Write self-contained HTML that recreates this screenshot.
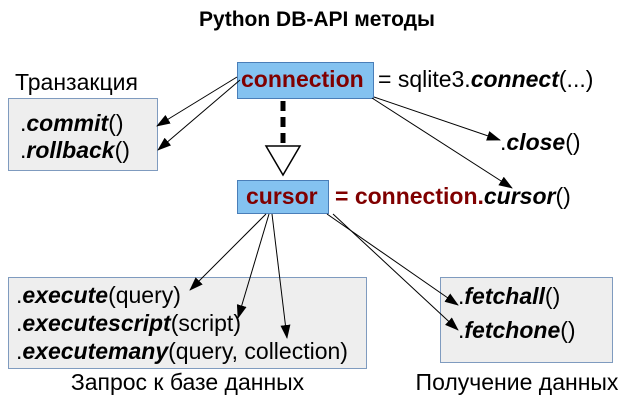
<!DOCTYPE html>
<html><head><meta charset="utf-8"><style>
body{margin:0;background:#fff;width:634px;height:402px;overflow:hidden;position:relative;font-family:"Liberation Sans",sans-serif;}
.t{position:absolute;white-space:nowrap;font-size:23px;color:#000;line-height:1;}
.box{position:absolute;background:#eeeeee;border:1.5px solid #7f9bbf;box-sizing:border-box;}
.blue{position:absolute;background:#84c2f0;border:1.5px solid #4a7eb8;box-sizing:border-box;}
.r{color:#800000;font-weight:bold;}
</style></head><body>
<div class="t" style="left:0;width:634px;text-align:center;top:9px;font-size:21px;font-weight:bold;">Python DB-API методы</div>
<div class="box" style="left:8px;top:98px;width:150px;height:73px"></div>
<div class="box" style="left:8px;top:277px;width:359px;height:92px"></div>
<div class="box" style="left:440px;top:277px;width:173px;height:86px"></div>
<div class="blue" style="left:237px;top:62px;width:137px;height:37px"></div>
<div class="blue" style="left:237px;top:180px;width:92px;height:34px"></div>
<svg width="634" height="402" style="position:absolute;left:0;top:0">
<defs><marker id="a" markerWidth="14" markerHeight="10" refX="13" refY="5" orient="auto" markerUnits="userSpaceOnUse"><path d="M0,0 L14,5 L0,10z" fill="#000"/></marker></defs>
<g stroke="#000" stroke-width="1" fill="none" marker-end="url(#a)">
<line x1="237" y1="77" x2="157" y2="126"/>
<line x1="240" y1="80" x2="158" y2="150"/>
<line x1="374" y1="97" x2="500" y2="140"/>
<line x1="372" y1="98" x2="512" y2="188"/>
<line x1="266" y1="214" x2="190" y2="290"/>
<line x1="269" y1="214" x2="238" y2="318"/>
<line x1="272" y1="214" x2="287" y2="338"/>
<line x1="327" y1="214" x2="458" y2="305"/>
<line x1="333" y1="214" x2="458" y2="330"/>
</g>
<line x1="283" y1="101" x2="283" y2="147" stroke="#000" stroke-width="5" stroke-dasharray="10,6"/>
<path d="M266,146 L300,146 L283,175z" fill="#fff" stroke="#000" stroke-width="1.5"/>
</svg>
<div class="t r" style="left:241px;top:68px;">connection</div>
<div class="t" style="left:378px;top:68px;">= sqlite3.<b><i>connect</i></b>(...)</div>
<div class="t" style="left:15px;top:71px;">Транзакция</div>
<div class="t" style="left:20px;top:112px;">.<b><i>commit</i></b>()</div>
<div class="t" style="left:20px;top:139px;">.<b><i>rollback</i></b>()</div>
<div class="t" style="left:500px;top:131px;">.<b><i>close</i></b>()</div>
<div class="t r" style="left:246px;top:185px;">cursor</div>
<div class="t" style="left:335px;top:185px;"><span class="r">= connection.</span><b><i>cursor</i></b>()</div>
<div class="t" style="left:16px;top:284px;">.<b><i>execute</i></b>(query)</div>
<div class="t" style="left:16px;top:312px;">.<b><i>executescript</i></b>(script)</div>
<div class="t" style="left:16px;top:340px;">.<b><i>executemany</i></b>(query, collection)</div>
<div class="t" style="left:458px;top:285px;">.<b><i>fetchall</i></b>()</div>
<div class="t" style="left:458px;top:319px;">.<b><i>fetchone</i></b>()</div>
<div class="t" style="left:8px;width:359px;text-align:center;top:371px;">Запрос к базе данных</div>
<div class="t" style="left:400px;width:234px;text-align:center;top:371px;">Получение данных</div>
</body></html>
